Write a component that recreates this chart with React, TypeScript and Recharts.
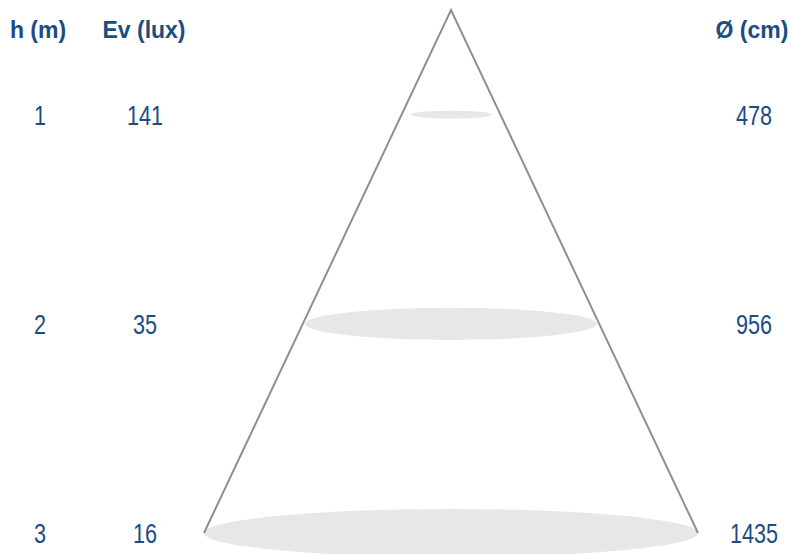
import { ComposedChart, Line, XAxis, YAxis, ReferenceArea } from 'recharts';

// mounting heights (m) and the values printed beside each level
const heights = [1, 2, 3];
const illuminance = [141, 35, 16];
const diameters = [478, 956, 1435];

// drawn light spots, in the diagram's own units (half width relative to the cone base, depth in m)
const spotHalfWidth = [0.164, 0.591, 1];
const spotDepth = [0.019, 0.077, 0.115];

// cone outline: base corners and apex
const coneApex = 0.5;
const cone = [
    { x: -1, y: 3 },
    { x: 0, y: coneApex },
    { x: 1, y: 3 },
];

const headers = [
    { text: 'h (m)', x: 38 },
    { text: 'Ev (lux)', x: 144 },
    { text: 'Ø (cm)', x: 752 },
];

const blue = '#1b4c82';

// condensed numerals: Liberation Sans squeezed horizontally
function Num({ x, y, value }: { x: number; y: number; value: number }) {
    return (
        <text
            transform={`translate(${x},${y}) scale(0.8,1)`}
            dy={10}
            fill={blue}
            fontFamily='"Liberation Sans", Arial, sans-serif'
            fontSize={27}
            textAnchor="middle"
        >
            {value}
        </text>
    );
}

function LeftTick(props: any) {
    const { y, payload } = props;
    const i = heights.indexOf(payload.value);
    return (
        <g>
            <Num x={40} y={y} value={heights[i]} />
            <Num x={145} y={y} value={illuminance[i]} />
        </g>
    );
}

function RightTick(props: any) {
    const { y, payload } = props;
    const i = heights.indexOf(payload.value);
    return <Num x={754} y={y} value={diameters[i]} />;
}

function Spot(props: any) {
    const { x, y, width, height } = props;
    const w = Math.abs(width);
    const h = Math.abs(height);
    return <ellipse cx={x + width / 2} cy={y + height / 2} rx={w / 2} ry={h / 2} fill="#e6e7e8" />;
}

export default function App() {
    return (
        <div style={{ position: 'absolute', left: 0, top: 0, width: 792, height: 554, background: '#fff' }}>
            <ComposedChart width={792} height={554} data={cone} margin={{ top: 10, right: 0, bottom: 21, left: 0 }}>
                <XAxis dataKey="x" type="number" domain={[-1, 1]} hide />
                <YAxis
                    yAxisId="left"
                    type="number"
                    domain={[coneApex, 3]}
                    reversed
                    ticks={heights}
                    width={204}
                    axisLine={false}
                    tickLine={false}
                    tick={<LeftTick />}
                />
                <YAxis
                    yAxisId="right"
                    orientation="right"
                    type="number"
                    domain={[coneApex, 3]}
                    reversed
                    ticks={heights}
                    width={94}
                    axisLine={false}
                    tickLine={false}
                    tick={<RightTick />}
                />
                {heights.map((h, i) => (
                    <ReferenceArea
                        key={h}
                        yAxisId="left"
                        x1={-spotHalfWidth[i]}
                        x2={spotHalfWidth[i]}
                        y1={h - spotDepth[i]}
                        y2={h + spotDepth[i]}
                        ifOverflow="visible"
                        shape={<Spot />}
                    />
                ))}
                <Line
                    yAxisId="left"
                    dataKey="y"
                    type="linear"
                    stroke="#8f8f8f"
                    strokeWidth={2}
                    dot={false}
                    activeDot={false}
                    isAnimationActive={false}
                />
                {/* same outline on the right axis so that axis gets its ticks */}
                <Line
                    yAxisId="right"
                    dataKey="y"
                    type="linear"
                    stroke="none"
                    dot={false}
                    activeDot={false}
                    isAnimationActive={false}
                />
            </ComposedChart>
            {headers.map((hd) => (
                <div
                    key={hd.text}
                    style={{
                        position: 'absolute',
                        top: 16,
                        left: hd.x,
                        transform: 'translateX(-50%)',
                        whiteSpace: 'nowrap',
                        color: blue,
                        fontFamily: '"Liberation Sans", Arial, sans-serif',
                        fontWeight: 'bold',
                        fontSize: 23,
                        lineHeight: '28px',
                    }}
                >
                    {hd.text}
                </div>
            ))}
        </div>
    );
}
